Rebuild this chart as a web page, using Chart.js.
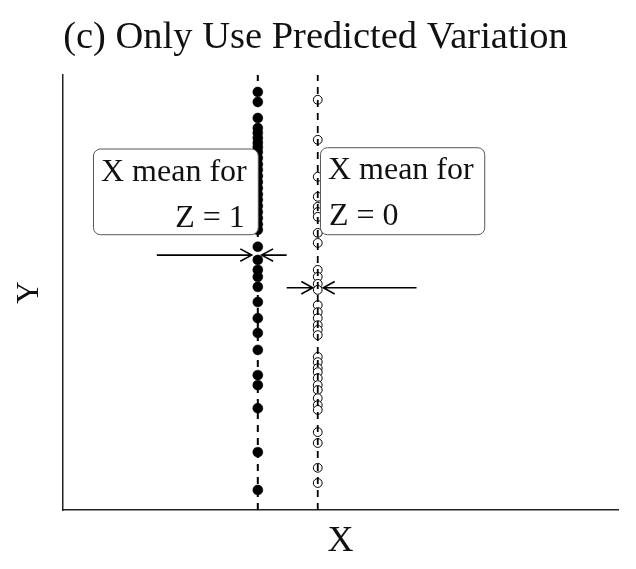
<!DOCTYPE html>
<html>
<head>
<meta charset="utf-8">
<script src="https://cdn.jsdelivr.net/npm/chart.js@4/dist/chart.umd.min.js"></script>
<style>
  html, body { margin: 0; padding: 0; background: #fff; }
  #c { display: block; }
</style>
</head>
<body>
<canvas id="c" width="636" height="569"></canvas>
<script>
// ---- data ----
const groupLabels = ['Z = 1', 'Z = 0'];
const groupX = [35.1, 45.9];           // x position of each column
const filledY = [96.1, 93.8, 90.1, 87.8, 86.7, 85.5, 84.4, 83.4, 82.3, 80.9, 79.5, 78.2,
  76.8, 75.4, 74.0, 72.6, 71.3, 69.9, 68.5, 67.1, 65.7, 64.4, 60.5, 57.5, 55.2, 53.6,
  51.3, 47.8, 44.1, 40.7, 36.8, 31.0, 28.7, 23.4, 13.3, 4.6];
const openY = [94.3, 85.1, 76.6, 72.0, 69.7, 68.5, 67.4, 63.7, 61.4, 55.2, 53.6, 52.0,
  50.6, 47.1, 45.5, 44.1, 42.5, 41.4, 40.2, 35.2, 34.0, 32.6, 31.7, 30.3, 28.7, 27.6,
  25.7, 24.1, 23.0, 17.9, 15.4, 9.7, 6.2];
const meanY = [58.6, 51.1];            // height of the "mean" arrows
const arrowLeftStart = [16.9, 40.3];
const arrowLeftTip = [34.0, 45.0];
const arrowRightStart = [40.3, 63.7];
const arrowRightTip = [35.8, 46.9];
const boxX0 = [5.4, 46.3];
const boxX1 = [35.1, 75.9];
const boxYTop = [83.1, 83.4];
const boxYBottom = [63.4, 63.4];
const boxLine1 = ['X mean for', 'X mean for'];
const boxLine2 = ['Z = 1', 'Z = 0'];
const boxAlign2 = ['right', 'left'];
const titleText = '(c) Only Use Predicted Variation';
const xTitle = 'X';
const yTitle = 'Y';

const SERIF = "'Liberation Serif', 'Times New Roman', serif";

const annotPlugin = {
  id: 'annot',
  afterDatasetsDraw(chart) {
    const ctx = chart.ctx;
    const xs = chart.scales.x, ys = chart.scales.y;
    ctx.save();
    // boxes
    for (let i = 0; i < groupLabels.length; i++) {
      const x0 = xs.getPixelForValue(boxX0[i]);
      const x1 = xs.getPixelForValue(boxX1[i]);
      const y0 = ys.getPixelForValue(boxYTop[i]);
      const y1 = ys.getPixelForValue(boxYBottom[i]);
      ctx.beginPath();
      ctx.roundRect(x0 + 0.5, y0 + 0.5, x1 - x0, y1 - y0, 7);
      ctx.fillStyle = '#fff';
      ctx.fill();
      ctx.lineWidth = 1;
      ctx.strokeStyle = '#555';
      ctx.stroke();
      ctx.fillStyle = '#111';
      ctx.font = '32px ' + SERIF;
      ctx.textBaseline = 'alphabetic';
      ctx.textAlign = 'left';
      ctx.fillText(boxLine1[i], x0 + 8, y0 + 32);
      if (boxAlign2[i] === 'right') {
        ctx.textAlign = 'right';
        ctx.fillText(boxLine2[i], x1 - 13, y0 + 78);
      } else {
        ctx.textAlign = 'left';
        ctx.fillText(boxLine2[i], x0 + 9, y0 + 78);
      }
    }
    // arrows
    ctx.strokeStyle = '#000';
    ctx.lineWidth = 1.6;
    const arrow = (xa, xb, y) => {
      const pa = xs.getPixelForValue(xa), pb = xs.getPixelForValue(xb);
      const py = ys.getPixelForValue(y);
      ctx.beginPath();
      ctx.moveTo(pa, py);
      ctx.lineTo(pb, py);
      const dir = pb > pa ? 1 : -1;
      const L = 13, ang = 0.5;
      ctx.moveTo(pb - dir * L * Math.cos(ang), py - L * Math.sin(ang));
      ctx.lineTo(pb, py);
      ctx.lineTo(pb - dir * L * Math.cos(ang), py + L * Math.sin(ang));
      ctx.stroke();
    };
    for (let i = 0; i < groupLabels.length; i++) {
      arrow(arrowLeftStart[i], arrowLeftTip[i], meanY[i]);
      arrow(arrowRightStart[i], arrowRightTip[i], meanY[i]);
    }
    ctx.restore();
  }
};

const datasets = [
  {
    type: 'line',
    data: [{x: groupX[0], y: 0}, {x: groupX[0], y: 100.5}],
    borderColor: '#000', borderWidth: 2, borderDash: [7, 6],
    pointRadius: 0, fill: false
  },
  {
    type: 'line',
    data: [{x: groupX[1], y: 0}, {x: groupX[1], y: 100.5}],
    borderColor: '#000', borderWidth: 1.8, borderDash: [7, 6],
    pointRadius: 0, fill: false
  },
  {
    type: 'scatter',
    data: filledY.map(v => ({x: groupX[0], y: v})),
    pointRadius: 5, pointBackgroundColor: '#000', pointBorderColor: '#000', pointBorderWidth: 0.5
  },
  {
    type: 'scatter',
    data: openY.map(v => ({x: groupX[1], y: v})),
    pointRadius: 4.4, pointBackgroundColor: '#fff', pointBorderColor: '#000', pointBorderWidth: 1
  }
];

new Chart(document.getElementById('c'), {
  type: 'scatter',
  data: { datasets },
  options: {
    responsive: false,
    animation: false,
    devicePixelRatio: 1,
    layout: { padding: { left: 13, right: 18, top: 0, bottom: 0 } },
    plugins: {
      legend: { display: false },
      tooltip: { enabled: false },
      title: {
        display: true,
        text: titleText,
        color: '#111',
        font: { family: SERIF, size: 38.5, weight: 'normal', lineHeight: 1.2 },
        padding: { top: 15, bottom: 13.8 }
      }
    },
    scales: {
      x: {
        type: 'linear', min: 0, max: 100,
        grid: { display: false },
        border: { display: true, color: '#222', width: 1.5 },
        ticks: { display: false },
        title: { display: true, text: xTitle, color: '#111',
          font: { family: SERIF, size: 36, lineHeight: 1.0 }, padding: { top: 0, bottom: 9 } },
        afterFit(s) { s.height = 59; }
      },
      y: {
        type: 'linear', min: 0, max: 100,
        grid: { display: false },
        border: { display: true, color: '#222', width: 1.5 },
        ticks: { display: false },
        title: { display: true, text: yTitle, color: '#111',
          font: { family: SERIF, size: 31, lineHeight: 1.1 }, padding: { top: 0, bottom: 0 } },
        afterFit(s) { s.width = 50; }
      }
    }
  },
  plugins: [annotPlugin]
});
</script>
</body>
</html>
